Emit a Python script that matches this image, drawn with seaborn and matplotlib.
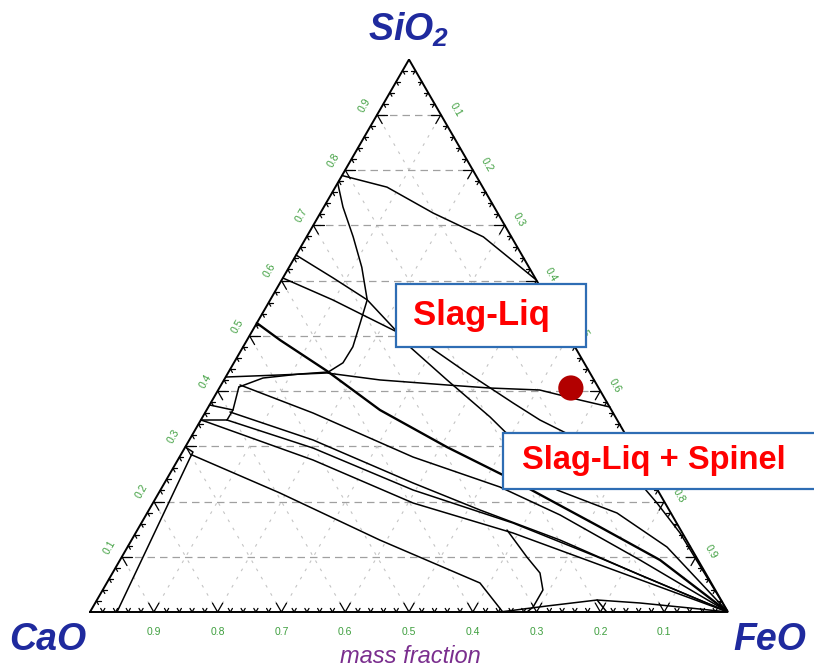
import numpy as np
import pandas as pd
import matplotlib
matplotlib.use("Agg")
import matplotlib.pyplot as plt
import seaborn as sns
from matplotlib.patches import Rectangle

sns.set_style("white")
plt.rcParams["font.family"] = ["Liberation Sans", "DejaVu Sans"]
plt.rcParams["mathtext.fontset"] = "custom"
plt.rcParams["mathtext.rm"] = "Liberation Sans:bold:italic"
plt.rcParams["mathtext.it"] = "Liberation Sans:bold:italic"

H = np.sqrt(3) / 2

# Phase boundaries, each point given as (w_SiO2, w_FeO) mass fractions; CaO is the balance.
upper_liquidus = [(0.790, 0.000), (0.769, 0.081), (0.722, 0.177), (0.679, 0.277), (0.601, 0.399)]
silica_dome = [(0.7765, 0.000), (0.733, 0.030), (0.679, 0.073), (0.624, 0.114), (0.565, 0.152),
               (0.523, 0.162), (0.480, 0.172), (0.451, 0.171), (0.434, 0.156)]
wollastonite_a = [(0.646, 0.000), (0.6045, 0.079), (0.565, 0.152), (0.507, 0.228), (0.4796, 0.2618),
                  (0.420, 0.3496), (0.353, 0.4505), (0.3258, 0.488), (0.300, 0.530), (0.2208, 0.6216),
                  (0.1792, 0.7364), (0.1176, 0.8456), (0.000, 1.000)]
wollastonite_b = [(0.6045, 0.000), (0.5647, 0.0985), (0.534, 0.167), (0.5068, 0.228)]
liquid_edge = [(0.4253, 0.000), (0.429, 0.083), (0.4326, 0.155), (0.420, 0.2445), (0.4109, 0.354),
               (0.4054, 0.424), (0.4018, 0.504), (0.3837, 0.576), (0.371, 0.6295)]
rankinite_arc = [(0.4072, 0.0297), (0.4235, 0.0594), (0.4308, 0.1138), (0.4344, 0.156)]
rankinite_side = [(0.4072, 0.0297), (0.3656, 0.0413), (0.3475, 0.041)]
rankinite_top = [(0.3747, 0.000), (0.3656, 0.0413)]
rankinite_low = [(0.3475, 0.000), (0.3475, 0.041)]
fan_a = [(0.4109, 0.0297), (0.3602, 0.1694), (0.2805, 0.366), (0.2262, 0.5295), (0.1756, 0.649),
         (0.0941, 0.815), (0.000, 1.000)]
fan_b = [(0.362, 0.0384), (0.3113, 0.194), (0.2335, 0.3896), (0.1846, 0.519), (0.1303, 0.6715),
         (0.067, 0.8285), (0.000, 1.000)]
fan_c = [(0.3475, 0.000), (0.3439, 0.0114), (0.2751, 0.212), (0.1973, 0.4077), (0.143, 0.5915),
         (0.0851, 0.757), (0.000, 1.000)]
fan_d = [(0.3475, 0.041), (0.2968, 0.201), (0.2208, 0.396), (0.161, 0.5825), (0.0977, 0.7505),
         (0.000, 1.000)]
fan_e = [(0.2842, 0.0178), (0.2154, 0.190), (0.1303, 0.389), (0.0525, 0.585), (0.000, 0.647)]
lime_edge = [(0.2986, 0.000), (0.2896, 0.0166), (0.2787, 0.0173), (0.000, 0.0423)]
spinel_edge = [(0.4796, 0.293), (0.438, 0.3656), (0.3783, 0.474), (0.3475, 0.5315), (0.3113, 0.6123),
               (0.2226, 0.7586), (0.1973, 0.790), (0.143, 0.8533), (0.000, 1.000)]
wustite_dome = [(0.000, 0.6426), (0.0109, 0.711), (0.0217, 0.784), (0.0163, 0.854), (0.0072, 0.937),
                (0.000, 1.000)]
wustite_tie = [(0.0217, 0.784), (0.000, 0.810)]
olivine_loop = [(0.1484, 0.5794), (0.0995, 0.635), (0.0706, 0.670), (0.0398, 0.690), (0.009, 0.690),
                (0.000, 0.685)]
# Main two-phase boundary drawn heavier
main_tie = [(0.523, 0.000), (0.4923, 0.0516), (0.4362, 0.1534), (0.3656, 0.2717), (0.2986, 0.410),
            (0.2389, 0.5435), (0.1538, 0.7225), (0.0941, 0.8464), (0.000, 1.000)]

# Marked composition
marker_point = (0.4054, 0.551)

# Tick labels
edge_values = [0.1, 0.2, 0.3, 0.4, 0.5, 0.6, 0.7, 0.8, 0.9]

boundaries = {
    "upper_liquidus": upper_liquidus, "silica_dome": silica_dome,
    "wollastonite_a": wollastonite_a, "wollastonite_b": wollastonite_b,
    "liquid_edge": liquid_edge, "rankinite_arc": rankinite_arc,
    "rankinite_side": rankinite_side, "rankinite_top": rankinite_top,
    "rankinite_low": rankinite_low, "fan_a": fan_a, "fan_b": fan_b, "fan_c": fan_c,
    "fan_d": fan_d, "fan_e": fan_e, "lime_edge": lime_edge, "spinel_edge": spinel_edge,
    "wustite_dome": wustite_dome, "wustite_tie": wustite_tie, "olivine_loop": olivine_loop,
}


def to_xy(s, f):
    s = np.asarray(s, float)
    f = np.asarray(f, float)
    return f + s / 2.0, s * H


def frame(curves):
    rows = []
    for name, pts in curves.items():
        for i, (s, f) in enumerate(pts):
            x, y = to_xy(s, f)
            rows.append({"curve": name, "order": i, "x": float(x), "y": float(y)})
    return pd.DataFrame(rows)


W, HPX = 814, 671
fig = plt.figure(figsize=(W / 100, HPX / 100), dpi=100)
ax = fig.add_axes([90 / W, 59 / HPX, 638 / W, 552.5 / HPX])
ax.set_xlim(0, 1)
ax.set_ylim(0, H)
ax.axis("off")

# Grid: constant SiO2 (horizontal) and the two diagonal families
for v in edge_values:
    ax.plot([v / 2, 1 - v / 2], [v * H, v * H], color="#a0a0a0", lw=0.9,
            dashes=(6, 4), zorder=1)
    # constant CaO = v : bottom (1-v, 0) to left edge
    x0, y0 = to_xy(0, 1 - v)
    x1, y1 = to_xy(1 - v, 0)
    ax.plot([x0, x1], [y0, y1], color="#c4c4c4", lw=0.8, dashes=(2.5, 6), zorder=1)
    # constant FeO = v : bottom (v, 0) to right edge
    x0, y0 = to_xy(0, v)
    x1, y1 = to_xy(1 - v, v)
    ax.plot([x0, x1], [y0, y1], color="#c4c4c4", lw=0.8, dashes=(2.5, 6), zorder=1)

# Triangle frame
ax.plot([0, 1, 0.5, 0], [0, 0, H, 0], color="black", lw=1.4, zorder=4,
        solid_joinstyle="miter", clip_on=False)

# Edge ticks
tick_color = "black"
for k in range(1, 50):
    t = k / 50
    major = (k % 5 == 0)
    L = 0.016 if major else 0.0065
    lw = 0.9
    # left edge (SiO2 = t)
    px, py = t / 2, t * H
    for dx, dy in [(1, 0), (0.5, -H)]:
        ax.plot([px, px + L * dx], [py, py + L * dy], color=tick_color, lw=lw, zorder=4)
    # right edge (FeO = t)
    px, py = to_xy(1 - t, t)
    for dx, dy in [(-1, 0), (-0.5, -H)]:
        ax.plot([px, px + L * dx], [py, py + L * dy], color=tick_color, lw=lw, zorder=4)
    # bottom edge
    px, py = t, 0
    for dx, dy in [(-0.5, H), (0.5, H)]:
        ax.plot([px, px + L * dx], [py, py + L * dy], color=tick_color, lw=lw, zorder=4)

# Phase boundaries
df = frame(boundaries)
sns.lineplot(data=df, x="x", y="y", units="curve", estimator=None, sort=False,
             color="black", lw=1.1, legend=False, ax=ax, zorder=3)
df_main = frame({"main_tie": main_tie})
sns.lineplot(data=df_main, x="x", y="y", units="curve", estimator=None, sort=False,
             color="black", lw=1.7, legend=False, ax=ax, zorder=3)
ax.set_xlabel("")
ax.set_ylabel("")

# Marked composition
mx, my = to_xy(marker_point[0], marker_point[1])
sns.scatterplot(x=[float(mx)], y=[float(my)], s=330, color="#b20000", edgecolor="none",
                ax=ax, zorder=7, legend=False)
ax.set_xlabel("")
ax.set_ylabel("")

# Tick labels
green = "#3f9f3f"
for v in edge_values:
    # bottom: CaO fraction
    ax.text(1 - v, -0.031, f"{v:.1f}", color=green, fontsize=7.5, ha="center", va="center",
            clip_on=False)
    # left edge: SiO2 fraction
    px, py = v / 2, v * H
    ox, oy = -0.866 * 0.024 + 0.5 * 0.004, 0.5 * 0.024 + H * 0.004
    ax.text(px + ox, py + oy, f"{v:.1f}", color=green, fontsize=7.5, rotation=60,
            ha="center", va="center", rotation_mode="anchor", clip_on=False)
    # right edge: FeO fraction
    px, py = to_xy(1 - v, v)
    ox, oy = 0.866 * 0.024 + 0.5 * 0.004, 0.5 * 0.024 - H * 0.004
    ax.text(px + ox, py + oy, f"{v:.1f}", color=green, fontsize=7.5, rotation=-60,
            ha="center", va="center", rotation_mode="anchor", clip_on=False)

# Component labels
blue = "#1f2a9e"
ax.text(0.5, 0.912, "SiO$_2$", color=blue, fontsize=27, fontweight="bold", style="italic",
        ha="center", va="center", clip_on=False)
ax.text(-0.066, -0.044, "CaO", color=blue, fontsize=27, fontweight="bold", style="italic",
        ha="center", va="center", clip_on=False)
ax.text(1.066, -0.044, "FeO", color=blue, fontsize=27, fontweight="bold", style="italic",
        ha="center", va="center", clip_on=False)
ax.text(0.5016, -0.0705, "mass fraction", color="#7a2e8e", fontsize=17, style="italic",
        ha="center", va="center", clip_on=False)

# Region labels
box_edge = "#2e6db4"
ax.add_patch(Rectangle((0.4796, 0.4154), 0.2978, 0.0987, facecolor="white", edgecolor=box_edge,
                       lw=1.6, zorder=8, clip_on=False))
ax.text(0.5063, 0.464, "Slag-Liq", color="#ff0000", fontsize=25, fontweight="bold",
        ha="left", va="center", zorder=9, clip_on=False)
ax.add_patch(Rectangle((0.6473, 0.1928), 0.52, 0.0878, facecolor="white", edgecolor=box_edge,
                       lw=1.6, zorder=8, clip_on=False))
ax.text(0.677, 0.2367, "Slag-Liq + Spinel", color="#ff0000", fontsize=23.5, fontweight="bold",
        ha="left", va="center", zorder=9, clip_on=False)

fig.savefig("out.png", dpi=100, facecolor="white")
